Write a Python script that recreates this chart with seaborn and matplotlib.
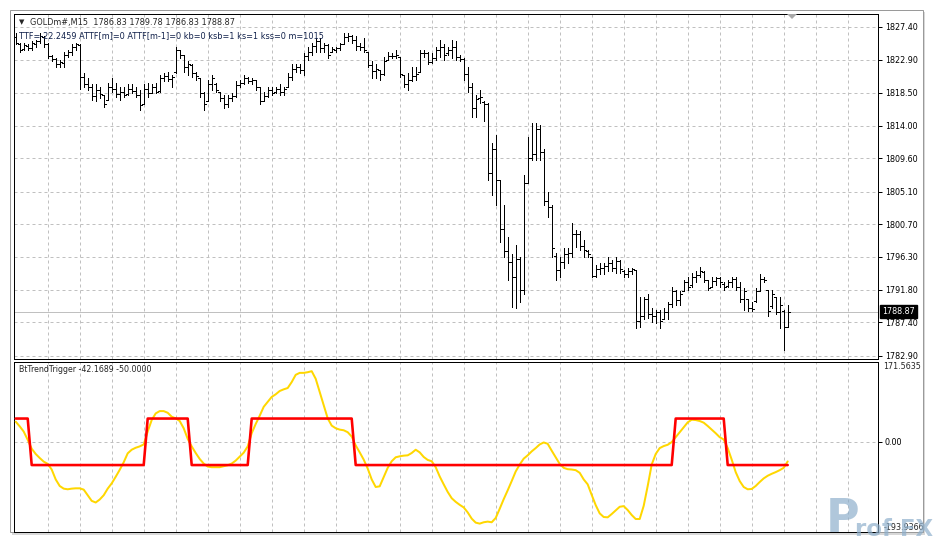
import numpy as np
import matplotlib
matplotlib.use("Agg")
import matplotlib.pyplot as plt
import matplotlib.transforms as mtransforms
from matplotlib.patches import Polygon, Rectangle
import seaborn as sns

# GOLDm#, M15 bars (oldest -> newest)
highs = [
    1826.6, 1825.2, 1825.2, 1825.0, 1825.4, 1825.6, 1826.6, 1826.1, 1825.2, 1823.6,
    1823.2, 1822.9, 1824.0, 1824.3, 1825.0, 1825.2, 1825.0, 1821.2, 1820.5, 1819.6,
    1819.6, 1819.3, 1818.2, 1819.8, 1820.5, 1819.8, 1819.3, 1819.3, 1819.6, 1819.6,
    1819.3, 1818.9, 1819.6, 1819.8, 1819.6, 1819.8, 1820.9, 1821.2, 1821.3, 1820.9,
    1824.6, 1824.3, 1823.6, 1822.7, 1822.3, 1821.3, 1820.5, 1818.6, 1820.2, 1820.9,
    1819.8, 1818.6, 1818.2, 1818.2, 1818.5, 1820.0, 1820.2, 1820.9, 1820.6, 1820.5,
    1820.2, 1819.2, 1818.6, 1819.3, 1819.3, 1819.2, 1819.6, 1819.3, 1821.2, 1822.3,
    1822.3, 1822.3, 1823.9, 1824.6, 1825.2, 1825.9, 1825.9, 1825.2, 1825.0, 1824.7,
    1824.7, 1825.2, 1826.6, 1826.6, 1826.3, 1826.1, 1825.2, 1825.9, 1824.0, 1822.7,
    1822.3, 1821.6, 1823.3, 1824.0, 1823.9, 1824.3, 1823.3, 1820.9, 1821.2, 1821.9,
    1822.0, 1824.3, 1824.3, 1824.0, 1823.9, 1824.7, 1825.6, 1825.0, 1824.7, 1825.6,
    1825.4, 1823.6, 1823.2, 1822.0, 1819.8, 1818.2, 1818.9, 1817.3, 1817.1, 1811.7,
    1812.8, 1806.7, 1803.3, 1799.0, 1796.6, 1797.9, 1796.2, 1807.4, 1812.5, 1814.4,
    1814.4, 1814.1, 1810.8, 1805.0, 1803.3, 1796.8, 1796.2, 1797.5, 1797.5, 1800.9,
    1799.9, 1799.7, 1798.6, 1797.2, 1796.3, 1795.2, 1795.5, 1795.5, 1796.3, 1795.9,
    1796.3, 1795.9, 1794.5, 1794.8, 1794.8, 1794.5, 1790.9, 1790.9, 1791.2, 1789.4,
    1789.1, 1789.1, 1789.4, 1790.1, 1792.2, 1791.8, 1791.6, 1793.2, 1793.6, 1794.1,
    1794.3, 1794.9, 1794.3, 1793.2, 1793.5, 1793.6, 1793.6, 1792.8, 1793.2, 1793.6,
    1793.5, 1792.8, 1792.1, 1790.6, 1790.1, 1792.1, 1793.9, 1793.5, 1791.8, 1791.8,
    1790.9, 1790.8, 1789.1, 1789.78,
]
lows = [
    1825.0, 1824.0, 1824.3, 1824.3, 1824.3, 1824.7, 1825.2, 1824.7, 1823.2, 1822.7,
    1821.9, 1821.9, 1822.0, 1823.3, 1823.6, 1824.3, 1819.0, 1819.2, 1818.9, 1817.5,
    1817.3, 1817.8, 1816.6, 1817.5, 1818.6, 1817.9, 1817.5, 1817.9, 1818.2, 1818.5,
    1817.9, 1816.2, 1816.9, 1817.9, 1818.5, 1818.5, 1818.6, 1820.0, 1820.0, 1819.3,
    1821.2, 1823.2, 1821.3, 1820.9, 1820.6, 1820.2, 1817.9, 1816.2, 1817.3, 1818.9,
    1818.6, 1817.3, 1816.4, 1816.6, 1817.3, 1817.9, 1819.2, 1819.6, 1819.8, 1819.6,
    1818.9, 1816.9, 1817.3, 1817.9, 1818.2, 1818.5, 1818.2, 1818.2, 1819.2, 1820.2,
    1821.3, 1821.2, 1820.9, 1822.9, 1823.6, 1824.0, 1824.0, 1824.0, 1823.2, 1824.0,
    1824.0, 1824.3, 1825.0, 1825.4, 1825.2, 1824.3, 1824.3, 1824.0, 1821.9, 1820.5,
    1820.5, 1820.2, 1820.9, 1822.9, 1823.2, 1823.2, 1820.6, 1819.2, 1818.9, 1820.0,
    1820.2, 1821.3, 1823.3, 1822.3, 1822.5, 1822.9, 1823.3, 1822.9, 1823.6, 1823.2,
    1822.9, 1822.7, 1820.2, 1818.6, 1815.2, 1815.2, 1817.1, 1814.6, 1806.7, 1804.7,
    1803.3, 1798.3, 1796.3, 1793.2, 1789.5, 1789.4, 1790.1, 1791.2, 1806.3, 1809.4,
    1809.4, 1809.4, 1803.3, 1801.7, 1796.3, 1793.2, 1793.5, 1794.8, 1795.5, 1796.3,
    1797.6, 1797.2, 1796.3, 1796.2, 1793.6, 1793.6, 1793.9, 1793.9, 1794.3, 1794.3,
    1794.1, 1794.1, 1793.6, 1793.6, 1793.9, 1786.7, 1786.8, 1787.8, 1788.0, 1787.5,
    1787.3, 1786.7, 1787.8, 1787.8, 1789.5, 1789.8, 1789.8, 1791.6, 1791.8, 1792.2,
    1792.8, 1793.6, 1792.8, 1791.8, 1792.2, 1792.5, 1792.2, 1791.8, 1792.2, 1792.2,
    1791.8, 1790.2, 1789.1, 1788.9, 1788.9, 1790.2, 1791.6, 1792.8, 1788.2, 1789.4,
    1788.5, 1786.7, 1783.7, 1786.83,
]
opens = [
    1826.0, 1825.0, 1824.4, 1824.8, 1824.5, 1825.1, 1825.5, 1826.0, 1825.0, 1823.5,
    1823.0, 1822.3, 1822.5, 1823.6, 1824.0, 1824.6, 1824.9, 1820.6, 1819.6, 1819.2,
    1818.0, 1818.9, 1818.2, 1817.5, 1819.3, 1819.0, 1818.3, 1818.6, 1818.3, 1819.0,
    1818.7, 1818.2, 1816.9, 1819.0, 1818.5, 1819.2, 1818.7, 1820.4, 1820.7, 1820.3,
    1821.3, 1824.2, 1823.6, 1822.0, 1822.2, 1821.2, 1820.5, 1818.4, 1817.3, 1819.6,
    1819.6, 1818.6, 1817.8, 1816.9, 1817.7, 1818.0, 1819.5, 1819.8, 1820.5, 1820.0,
    1820.2, 1819.2, 1817.4, 1818.0, 1818.8, 1818.6, 1819.0, 1818.6, 1819.2, 1820.6,
    1821.7, 1821.9, 1821.5, 1823.4, 1824.0, 1824.8, 1825.4, 1824.5, 1824.9, 1824.0,
    1824.3, 1824.5, 1825.0, 1826.0, 1826.1, 1825.6, 1824.8, 1824.6, 1824.0, 1822.2,
    1821.4, 1821.6, 1821.0, 1822.9, 1823.4, 1823.5, 1823.3, 1820.9, 1819.6, 1820.2,
    1820.8, 1821.3, 1823.8, 1823.9, 1822.6, 1823.2, 1824.2, 1824.6, 1823.8, 1824.3,
    1824.7, 1823.3, 1823.0, 1821.0, 1819.3, 1816.4, 1817.8, 1817.2, 1817.0, 1807.6,
    1810.8, 1806.7, 1800.0, 1797.0, 1795.6, 1793.6, 1796.0, 1791.8, 1806.3, 1809.7,
    1810.2, 1813.6, 1810.4, 1803.8, 1803.0, 1796.4, 1794.5, 1795.6, 1796.6, 1796.8,
    1799.3, 1799.4, 1797.8, 1797.0, 1796.2, 1793.7, 1794.6, 1794.8, 1795.0, 1795.5,
    1794.8, 1795.7, 1794.4, 1794.0, 1794.3, 1794.5, 1787.6, 1788.2, 1790.6, 1788.6,
    1788.2, 1788.8, 1787.8, 1788.8, 1789.9, 1791.6, 1790.4, 1791.6, 1792.8, 1792.4,
    1793.6, 1793.8, 1794.2, 1793.1, 1792.2, 1793.0, 1793.4, 1792.6, 1792.3, 1792.9,
    1793.3, 1792.2, 1790.6, 1790.5, 1789.4, 1790.3, 1791.6, 1793.3, 1791.8, 1789.6,
    1790.9, 1788.8, 1789.0, 1786.83,
]
closes = [
    1825.2, 1824.3, 1824.9, 1824.5, 1825.2, 1825.5, 1826.2, 1825.0, 1823.5, 1823.0,
    1822.3, 1822.6, 1823.6, 1824.0, 1824.7, 1825.0, 1820.6, 1819.6, 1819.2, 1818.0,
    1818.9, 1818.3, 1817.0, 1819.3, 1819.0, 1818.3, 1818.6, 1818.2, 1819.0, 1818.7,
    1818.2, 1816.8, 1819.0, 1818.4, 1819.2, 1818.6, 1820.4, 1820.7, 1820.3, 1820.6,
    1824.2, 1823.6, 1822.0, 1822.3, 1821.2, 1820.8, 1818.4, 1817.0, 1819.6, 1820.4,
    1818.8, 1817.8, 1816.9, 1817.7, 1818.0, 1819.5, 1819.8, 1820.5, 1820.0, 1820.2,
    1819.2, 1817.4, 1818.0, 1818.8, 1818.5, 1819.0, 1818.6, 1819.0, 1820.6, 1821.7,
    1821.9, 1821.5, 1823.4, 1824.0, 1824.8, 1825.4, 1824.5, 1824.9, 1823.6, 1824.4,
    1824.5, 1825.0, 1826.0, 1826.1, 1825.6, 1824.8, 1824.6, 1824.2, 1822.2, 1821.4,
    1821.7, 1821.0, 1822.8, 1823.4, 1823.5, 1823.6, 1821.0, 1819.6, 1820.2, 1820.8,
    1821.0, 1823.8, 1823.9, 1822.6, 1823.2, 1824.2, 1824.6, 1823.6, 1824.3, 1824.7,
    1823.3, 1823.0, 1821.0, 1819.3, 1816.4, 1817.6, 1817.9, 1817.0, 1807.6, 1810.8,
    1806.7, 1800.0, 1797.0, 1795.6, 1793.6, 1796.0, 1791.8, 1806.3, 1809.7, 1810.2,
    1813.6, 1810.4, 1803.8, 1803.0, 1797.5, 1794.5, 1795.6, 1796.6, 1796.8, 1799.3,
    1799.4, 1797.8, 1797.2, 1796.6, 1793.7, 1794.6, 1794.8, 1795.0, 1795.5, 1794.8,
    1795.7, 1794.6, 1794.0, 1794.3, 1794.6, 1787.6, 1788.2, 1790.6, 1788.6, 1788.2,
    1788.8, 1787.6, 1788.8, 1789.9, 1791.6, 1790.4, 1791.2, 1792.8, 1792.2, 1793.6,
    1793.8, 1794.4, 1793.2, 1792.0, 1793.0, 1793.4, 1792.8, 1792.2, 1792.9, 1793.3,
    1792.2, 1790.6, 1791.6, 1789.4, 1789.2, 1791.6, 1793.3, 1793.2, 1789.0, 1791.2,
    1788.8, 1789.8, 1786.8, 1788.87,
]

# BtTrendTrigger indicator
trigger = [
    43.3, 33.3, 22.0, 4.3, -14.9, -26.2, -34.8, -42.6, -47.5, -59.6,
    -80.9, -95.0, -100.7, -102.1, -100.7, -100.0, -100.0, -102.8, -114.9, -127.0,
    -130.5, -124.1, -114.9, -100.7, -89.4, -75.2, -60.3, -44.0, -24.8, -17.0,
    -12.8, -9.9, -5.7, 22.0, 46.8, 61.0, 66.0, 66.0, 62.4, 53.9,
    50.4, 44.7, 29.1, 6.4, -9.9, -24.1, -36.9, -46.8, -53.2, -54.6,
    -54.6, -54.6, -52.5, -50.4, -46.8, -40.4, -31.9, -23.4, -9.9, 18.4,
    38.3, 56.0, 75.2, 85.8, 96.5, 102.1, 109.2, 112.8, 115.6, 128.4,
    144.0, 148.2, 148.2, 149.6, 151.8, 135.5, 107.1, 78.7, 50.4, 34.8,
    29.1, 26.2, 24.8, 20.6, 11.3, -7.8, -22.7, -38.3, -57.4, -80.9,
    -97.2, -95.7, -75.9, -56.0, -41.8, -33.3, -31.2, -29.8, -29.1, -24.1,
    -17.0, -22.7, -32.6, -39.0, -41.8, -54.6, -74.5, -91.5, -107.8, -121.3,
    -129.1, -135.5, -141.1, -151.8, -165.2, -173.8, -175.9, -173.0, -171.6, -173.0,
    -163.8, -144.0, -123.4, -104.3, -84.4, -63.8, -48.9, -36.2, -29.1, -20.6,
    -13.5, -5.7, -1.4, -4.3, -19.1, -33.3, -47.5, -56.0, -58.9, -59.6,
    -61.0, -66.7, -80.9, -91.5, -114.2, -136.2, -153.9, -161.7, -162.4, -155.3,
    -147.5, -139.7, -138.3, -146.8, -157.4, -166.0, -166.0, -137.6, -95.0, -48.9,
    -26.2, -13.5, -9.2, -6.4, -0.7, 9.9, 20.6, 31.2, 41.8, 47.5,
    46.8, 44.7, 41.1, 34.0, 26.2, 18.4, 9.9, 5.0, -13.5, -38.3,
    -65.2, -84.4, -97.2, -102.1, -101.4, -95.0, -86.5, -78.7, -73.0, -68.8,
    -65.2, -61.0, -56.0, -42.17,
]
# trigger signal: level and number of bars it holds
signal_levels = [50, -50, 50, -50, 50, -50, 50, -50]
signal_lengths = [4, 29, 11, 15, 26, 80, 13, 16]

price_ticks = [1827.40, 1822.90, 1818.50, 1814.00, 1809.60, 1805.10,
               1800.70, 1796.30, 1791.80, 1787.40, 1782.90]
ind_max, ind_min = 171.5635, -193.9366
last_price = 1788.87
header = "GOLDm#,M15  1786.83 1789.78 1786.83 1788.87"
ttf_line = "TTF=-22.2459 ATTF[m]=0 ATTF[m-1]=0 kb=0 ksb=1 ks=1 kss=0 m=1015"
ind_label = "BtTrendTrigger -42.1689 -50.0000"

sns.set_style("white")
plt.rcParams['font.family'] = ['DejaVu Sans']

W, H = 937, 543
fig = plt.figure(figsize=(W / 100, H / 100), dpi=100)
fig.patch.set_facecolor("white")


def box(l, t, r, b):
    return [l / W, 1 - b / H, (r - l) / W, (b - t) / H]


def fx(px):
    return px / W


def fy(py):
    return 1 - py / H


px = 0.72  # one pixel in points
grid_kw = dict(color="#c0c0c0", linestyle=(0, (3, 3)), linewidth=px)

# outer window frame with a soft shadow
fig.add_artist(Rectangle((fx(12), fy(535)), (925 - 12) / W, (535 - 12) / H,
                         transform=fig.transFigure, facecolor="#d8d8d8",
                         edgecolor="none", zorder=-3))
fig.add_artist(Rectangle((fx(10), fy(532)), (923 - 10) / W, (532 - 10) / H,
                         transform=fig.transFigure, facecolor="white",
                         edgecolor="#9a9a9a", lw=px, zorder=-2))

ax = fig.add_axes(box(14, 14, 878, 359))
ax2 = fig.add_axes(box(14, 362, 878, 532))

x = np.arange(len(closes))

# --- price panel ---
ax.vlines(x, lows, highs, color="black", lw=px, antialiased=False, zorder=3)
ax.hlines(opens, x - 0.5, x, color="black", lw=px, antialiased=False, zorder=3)
ax.hlines(closes, x, x + 0.5, color="black", lw=px, antialiased=False, zorder=3)
ax.axhline(last_price, color="#c0c0c0", lw=px, zorder=2)

ax.set_xlim(-0.425, 215.575)
ax.set_ylim(1782.45, 1829.12)
ax.set_xticks(np.arange(8, 216, 8))
ax.set_yticks(price_ticks)
ax.set_yticklabels([f"{p:.2f}" for p in price_ticks])
ax.yaxis.tick_right()
ax.tick_params(axis="x", length=0, labelbottom=False)
ax.tick_params(axis="y", direction="out", length=3, width=px, pad=2,
               labelsize=5.8, colors="black")
ax.grid(True, **grid_kw)
ax.set_axisbelow(True)
for s in ax.spines.values():
    s.set_color("black")
    s.set_linewidth(px)

trans = mtransforms.blended_transform_factory(ax.transAxes, ax.transData)
ax.text(1.0045, last_price, f"{last_price:.2f}", transform=trans, fontsize=5.8,
        color="white", va="center", ha="left",
        bbox=dict(boxstyle="square,pad=0.25", fc="black", ec="black"))

# chart shift marker
fig.add_artist(Polygon([(fx(787), fy(14)), (fx(797), fy(14)), (fx(792), fy(19))],
                       closed=True, transform=fig.transFigure,
                       facecolor="#a8a8a8", edgecolor="none", zorder=5))

# --- indicator panel ---
signal = np.repeat(signal_levels, signal_lengths)
sns.lineplot(x=x, y=trigger, ax=ax2, color="#FFD700", linewidth=2 * px,
             zorder=3, legend=False)
sns.lineplot(x=x, y=signal, ax=ax2, color="#FF0000", linewidth=2.6 * px,
             zorder=4, legend=False)

ax2.set_xlim(-0.425, 215.575)
ax2.set_ylim(ind_min, ind_max)
ax2.set_xticks(np.arange(8, 216, 8))
ax2.set_yticks([0])
ax2.set_yticklabels(["0.00"])
ax2.yaxis.tick_right()
ax2.tick_params(axis="x", length=0, labelbottom=False)
ax2.tick_params(axis="y", direction="out", length=3, width=px, pad=2,
                labelsize=5.8, colors="black")
ax2.grid(True, **grid_kw)
ax2.set_axisbelow(True)
ax2.set_ylabel("")
for s in ax2.spines.values():
    s.set_color("black")
    s.set_linewidth(px)
ax2.text(1.006, 1.0, f"{ind_max:.4f}", transform=ax2.transAxes, fontsize=5.8,
         va="top", ha="left")
ax2.text(1.006, 0.0, f"{ind_min:.4f}", transform=ax2.transAxes, fontsize=5.8,
         va="bottom", ha="left", zorder=8)

# --- header texts ---
fig.text(fx(19), fy(22), "\u25bc", fontsize=5, va="center", ha="left", zorder=6)
fig.text(fx(30), fy(22), header, fontsize=5.9, va="center", ha="left", zorder=6)
fig.text(fx(19), fy(35.5), ttf_line, fontsize=5.9, va="center", ha="left",
         color="#10204a", zorder=6)
fig.text(fx(19), fy(370), ind_label, fontsize=5.7, va="center", ha="left", zorder=6)

# watermark (semi-transparent logo in the lower-right corner, as in the source)
fig.text(fx(826), fy(542), "P", fontsize=33, fontweight="bold", color="#8fb0cc",
         alpha=0.7, va="bottom", ha="left", zorder=7)
fig.text(fx(855), fy(541), "rof FX", fontsize=16.5, fontweight="bold",
         color="#8fb0cc", alpha=0.7, va="bottom", ha="left", zorder=7)

fig.savefig("out.png", dpi=100)
